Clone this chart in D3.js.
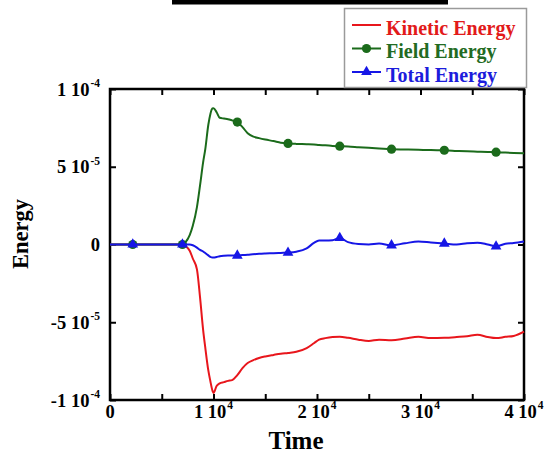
<!DOCTYPE html>
<html>
<head>
<meta charset="utf-8">
<script src="https://cdn.jsdelivr.net/npm/d3@7"></script>
<style>
  html, body { margin: 0; padding: 0; background: #fff; }
  svg { display: block; font-family: "Liberation Serif", "Times New Roman", serif; font-weight: bold; }
</style>
</head>
<body>
<div id="chart"></div>
<script>
// time samples and energies (energies in units of 1e-5)
const time = [0, 2200, 7000, 7300, 7700, 8000, 8400, 8700, 9000, 9200, 9500, 9700, 9900, 10000,
  10300, 10600, 11000, 11400, 11800, 12300, 12800, 13300, 13800, 14400, 15000, 15800, 16500,
  17200, 18000, 19000, 19700, 20200, 20800, 21500, 22200, 23000, 24000, 25000, 26000, 27200,
  28500, 29800, 31000, 32300, 33500, 34500, 35500, 36500, 37300, 38200, 39000, 40000];

const kinetic = [0, 0, 0, -0.1, -0.4, -0.9, -1.6, -3.4, -5.5, -6.6, -8.1, -8.8, -9.4, -9.55,
  -9.1, -8.93, -8.85, -8.77, -8.72, -8.4, -7.95, -7.62, -7.45, -7.3, -7.2, -7.1, -7.02,
  -6.97, -6.9, -6.66, -6.35, -6.12, -6.02, -5.95, -5.93, -6.0, -6.12, -6.2, -6.12, -6.15,
  -6.05, -5.94, -6.02, -6.0, -5.95, -5.9, -5.8, -5.95, -6.02, -5.94, -5.88, -5.6];

const field = [0, 0, 0, 0.15, 0.6, 1.2, 2.4, 3.8, 5.3, 6.1, 7.7, 8.4, 8.75, 8.77,
  8.5, 8.15, 8.1, 8.06, 7.98, 7.87, 7.55, 7.16, 6.95, 6.84, 6.75, 6.65, 6.55,
  6.5, 6.47, 6.45, 6.43, 6.4, 6.38, 6.34, 6.32, 6.3, 6.26, 6.22, 6.18, 6.13,
  6.11, 6.09, 6.07, 6.06, 6.02, 5.99, 5.97, 5.95, 5.94, 5.91, 5.89, 5.87];

const total = [0, 0, 0, 0, 0, -0.05, -0.2, -0.35, -0.45, -0.55, -0.7, -0.8, -0.84, -0.84,
  -0.8, -0.75, -0.72, -0.71, -0.71, -0.71, -0.68, -0.66, -0.63, -0.6, -0.58, -0.56, -0.54,
  -0.52, -0.46, -0.25, 0.1, 0.26, 0.25, 0.28, 0.42, 0.15, 0.03, 0.0, 0.06, -0.05,
  0.08, 0.19, 0.13, 0.06, 0.0, 0.08, 0.12, 0.0, -0.12, 0.05, 0.1, 0.2];

// samples that carry a symbol
const markerTimes = [2200, 7000, 12300, 17200, 22200, 27200, 32300, 37300];

const xTickValues = [0, 5000, 10000, 15000, 20000, 25000, 30000, 35000, 40000];
const xTickText = {0: ['0', ''], 10000: ['1 10', '4'], 20000: ['2 10', '4'], 30000: ['3 10', '4'], 40000: ['4 10', '4']};
const yTickValues = [-10, -5, 0, 5, 10];
const yTickText = {'-10': ['-1 10', '-4'], '-5': ['-5 10', '-5'], '0': ['0', ''], '5': ['5 10', '-5'], '10': ['1 10', '-4']};

const seriesNames = ['Kinetic Energy', 'Field Energy', 'Total Energy'];

const width = 546, height = 453;
const margin = {top: 89, right: 22, bottom: 53, left: 110};

const svg = d3.select('#chart').append('svg')
  .attr('width', width)
  .attr('height', height);

// black strip left over from the cropped title
svg.append('rect')
  .attr('x', 172).attr('y', 0)
  .attr('width', 276).attr('height', 4.5)
  .attr('fill', '#000');

const x = d3.scaleLinear().domain([0, 40000]).range([margin.left, width - margin.right]);
const y = d3.scaleLinear().domain([-10, 10]).range([height - margin.bottom, margin.top]);

const colors = {kinetic: '#e8161c', field: '#1b6b1b', total: '#1616e6'};
const textColors = {kinetic: '#e21a1a', field: '#226b22', total: '#1c1cdc'};

// ticks, all pointing inward
const tick = 6;
function styleAxis(g) {
  g.select('.domain').remove();
  g.selectAll('.tick line').attr('stroke', '#000').attr('stroke-width', 2);
  g.selectAll('.tick text').remove();
}
svg.append('g').attr('transform', 'translate(0,' + y.range()[0] + ')')
  .call(d3.axisBottom(x).tickValues(xTickValues).tickSize(-tick)).call(styleAxis);
svg.append('g').attr('transform', 'translate(0,' + y.range()[1] + ')')
  .call(d3.axisTop(x).tickValues(xTickValues).tickSize(-tick)).call(styleAxis);
svg.append('g').attr('transform', 'translate(' + x.range()[0] + ',0)')
  .call(d3.axisLeft(y).tickValues(yTickValues).tickSize(-tick)).call(styleAxis);
svg.append('g').attr('transform', 'translate(' + x.range()[1] + ',0)')
  .call(d3.axisRight(y).tickValues(yTickValues).tickSize(-tick)).call(styleAxis);

// frame
svg.append('rect')
  .attr('x', x.range()[0]).attr('y', y.range()[1])
  .attr('width', x.range()[1] - x.range()[0])
  .attr('height', y.range()[0] - y.range()[1])
  .attr('fill', 'none').attr('stroke', '#000').attr('stroke-width', 2.5);

// tick labels with superscript exponents
function addLabel(g, parts) {
  g.append('tspan').text(parts[0]);
  if (parts[1]) {
    g.append('tspan').attr('font-size', 11.5).attr('dy', -8.5).attr('dx', 1).text(parts[1]);
  }
}
Object.keys(xTickText).forEach(function(k) {
  const t = svg.append('text')
    .attr('x', x(+k)).attr('y', 417.5)
    .attr('text-anchor', 'middle')
    .attr('font-size', 18.5);
  addLabel(t, xTickText[k]);
});
Object.keys(yTickText).forEach(function(k) {
  const t = svg.append('text')
    .attr('x', 100).attr('y', y(+k) + 6.5)
    .attr('text-anchor', 'end')
    .attr('font-size', 18.5);
  addLabel(t, yTickText[k]);
});

// axis titles
svg.append('text')
  .attr('x', 296).attr('y', 449)
  .attr('text-anchor', 'middle')
  .attr('font-size', 25)
  .text('Time');
svg.append('text')
  .attr('transform', 'translate(28,234) rotate(-90)')
  .attr('text-anchor', 'middle')
  .attr('font-size', 22.5)
  .text('Energy');

// curves
const rows = time.map(function(t, i) {
  return {t: t, kinetic: kinetic[i], field: field[i], total: total[i]};
});
const plot = svg.append('g');
['kinetic', 'field', 'total'].forEach(function(key) {
  const line = d3.line()
    .x(function(d) { return x(d.t); })
    .y(function(d) { return y(d[key]); })
    .curve(d3.curveMonotoneX);
  plot.append('path')
    .datum(rows)
    .attr('fill', 'none')
    .attr('stroke', colors[key])
    .attr('stroke-width', 2)
    .attr('stroke-linejoin', 'round')
    .attr('d', line);

  const marked = rows.filter(function(d) { return markerTimes.indexOf(d.t) >= 0; });
  if (key === 'field') {
    plot.selectAll('circle.field').data(marked).enter().append('circle')
      .attr('class', 'field')
      .attr('cx', function(d) { return x(d.t); })
      .attr('cy', function(d) { return y(d.field); })
      .attr('r', 4.6)
      .attr('fill', colors.field);
  }
  if (key === 'total') {
    plot.selectAll('path.tri').data(marked).enter().append('path')
      .attr('class', 'tri')
      .attr('d', d3.symbol().type(d3.symbolTriangle).size(50))
      .attr('transform', function(d) { return 'translate(' + x(d.t) + ',' + y(d.total) + ')'; })
      .attr('fill', colors.total);
  }
});

// legend
const legend = svg.append('g');
legend.append('rect')
  .attr('x', 344.5).attr('y', 8.5)
  .attr('width', 182).attr('height', 79)
  .attr('fill', '#fff').attr('stroke', '#9a9a9a').attr('stroke-width', 1.5);
['kinetic', 'field', 'total'].forEach(function(key, i) {
  const ly = 25 + i * 23.5;
  legend.append('line')
    .attr('x1', 352).attr('x2', 381)
    .attr('y1', ly).attr('y2', ly)
    .attr('stroke', colors[key]).attr('stroke-width', 2);
  if (key === 'field') {
    legend.append('circle').attr('cx', 366.5).attr('cy', ly).attr('r', 4.6).attr('fill', colors.field);
  }
  if (key === 'total') {
    legend.append('path')
      .attr('d', d3.symbol().type(d3.symbolTriangle).size(50))
      .attr('transform', 'translate(366.5,' + ly + ')')
      .attr('fill', colors.total);
  }
  legend.append('text')
    .attr('x', 386).attr('y', ly + 9.5)
    .attr('font-size', 20)
    .attr('fill', textColors[key])
    .text(seriesNames[i]);
});
</script>
</body>
</html>
